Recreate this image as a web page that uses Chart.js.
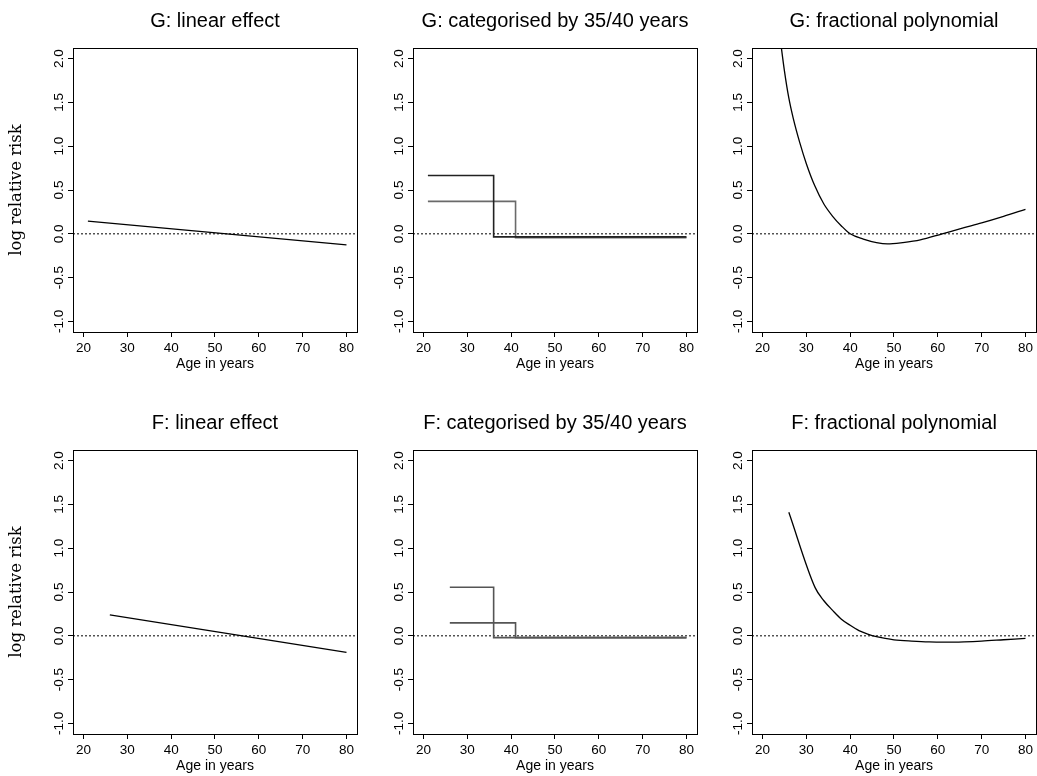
<!DOCTYPE html>
<html>
<head>
<meta charset="utf-8">
<script src="https://cdn.jsdelivr.net/npm/chart.js@4.4.1/dist/chart.umd.min.js"></script>
<style>
  html, body { margin: 0; padding: 0; background: #fff; overflow: hidden; }
  #wrap { position: relative; width: 1037px; height: 776px; overflow: hidden; }
  canvas { position: absolute; }
</style>
</head>
<body>
<div id="wrap">
  <canvas id="gLin" width="362" height="390" style="left:0px;top:0px"></canvas>
  <canvas id="gCat" width="362" height="390" style="left:340px;top:0px"></canvas>
  <canvas id="gFp" width="362" height="390" style="left:679px;top:0px"></canvas>
  <canvas id="fLin" width="362" height="390" style="left:0px;top:402px"></canvas>
  <canvas id="fCat" width="362" height="390" style="left:340px;top:402px"></canvas>
  <canvas id="fFp" width="362" height="390" style="left:679px;top:402px"></canvas>
</div>
<script>
// axes shared by all six panels
const xTicks = [20, 30, 40, 50, 60, 70, 80];
const yTicks = [-1.0, -0.5, 0.0, 0.5, 1.0, 1.5, 2.0];
const xRange = [17.6, 82.4];
const yRange = [-1.12, 2.12];

// G: linear effect
const gLinAge = [21, 80];
const gLinRisk = [0.145, -0.125];

// G: categorised by 35/40 years (step functions)
const gCat35Age = [21, 36, 80];
const gCat35Risk = [0.665, -0.035, -0.035];
const gCat40Age = [21, 41, 80];
const gCat40Risk = [0.37, -0.045, -0.045];

// G: fractional polynomial
const gFpAge = [24.0, 25, 26, 27, 28.5, 30, 31.9, 34, 36, 38, 40, 43, 46, 48.5, 52, 56, 61, 66, 70, 75, 80];
const gFpRisk = [2.24, 1.86, 1.55, 1.32, 1.04, 0.8, 0.55, 0.34, 0.2, 0.09, 0.0, -0.06, -0.1, -0.115, -0.1, -0.07, 0.0, 0.07, 0.125, 0.2, 0.28];

// F: linear effect
const fLinAge = [26, 80];
const fLinRisk = [0.24, -0.19];

// F: categorised by 35/40 years
const fCat35Age = [26, 36, 80];
const fCat35Risk = [0.555, -0.02, -0.02];
const fCat40Age = [26, 41, 80];
const fCat40Risk = [0.148, -0.02, -0.02];

// F: fractional polynomial
const fFpAge = [26, 32, 34, 36, 38, 40, 42, 44, 46, 48, 50, 54, 58, 62, 66, 70, 75, 80];
const fFpRisk = [1.41, 0.55, 0.4, 0.29, 0.19, 0.12, 0.06, 0.02, -0.01, -0.03, -0.045, -0.06, -0.07, -0.072, -0.068, -0.06, -0.045, -0.03];

Chart.defaults.font.family = "'Liberation Sans', Arial, Helvetica, sans-serif";
Chart.defaults.color = '#000';

function pts(xs, ys) {
  return xs.map((x, i) => ({ x: x, y: ys[i] }));
}

// box round the plot region, like R's box()
const framePlugin = {
  id: 'frame',
  afterDraw(chart) {
    const a = chart.chartArea;
    const ctx = chart.ctx;
    ctx.save();
    ctx.strokeStyle = '#000';
    ctx.lineWidth = 1;
    ctx.strokeRect(a.left + 0.5, a.top + 0.5, a.right - a.left, a.bottom - a.top);
    ctx.restore();
  }
};

function curve(xs, ys, extra) {
  return Object.assign({
    data: pts(xs, ys),
    borderColor: '#000',
    borderWidth: 1.3,
    pointRadius: 0,
    fill: false,
    tension: 0
  }, extra || {});
}

function zeroLine() {
  return {
    data: pts(xRange, [0, 0]),
    borderColor: '#000',
    borderWidth: 1,
    borderDash: [2, 2],
    pointRadius: 0,
    fill: false
  };
}

function panel(id, title, showYTitle, datasets) {
  new Chart(document.getElementById(id), {
    type: 'line',
    data: { datasets: datasets.concat([zeroLine()]) },
    options: {
      responsive: false,
      animation: false,
      events: [],
      layout: { padding: { left: 0, right: 5, top: 0, bottom: 0 } },
      plugins: {
        legend: { display: false },
        tooltip: { enabled: false },
        title: {
          display: true,
          text: title,
          fullSize: false,
          color: '#000',
          font: { size: 20, weight: 'normal' },
          padding: { top: 9, bottom: 15 }
        }
      },
      scales: {
        x: {
          type: 'linear',
          min: xRange[0],
          max: xRange[1],
          afterBuildTicks: s => { s.ticks = xTicks.map(v => ({ value: v })); },
          afterFit: s => { s.height = 58; },
          border: { display: false },
          grid: { drawOnChartArea: false, drawTicks: true, tickLength: 5, color: '#000', lineWidth: 1 },
          ticks: { autoSkip: false, maxRotation: 0, padding: 3.4, color: '#000', font: { size: 13.5 } },
          title: {
            display: true,
            text: 'Age in years',
            color: '#000',
            font: { size: 14 },
            padding: { top: 0, bottom: 17 }
          }
        },
        y: {
          type: 'linear',
          min: yRange[0],
          max: yRange[1],
          afterBuildTicks: s => { s.ticks = yTicks.map(v => ({ value: v })); },
          afterFit: s => { s.width = 73; },
          border: { display: false },
          grid: { drawOnChartArea: false, drawTicks: true, tickLength: 5, color: '#000', lineWidth: 1 },
          ticks: {
            minRotation: 90,
            maxRotation: 90,
            crossAlign: 'center',
            padding: -2.6,
            color: '#000',
            font: { size: 13.5 },
            callback: v => Number(v).toFixed(1)
          },
          title: {
            display: showYTitle,
            text: 'log relative risk',
            color: '#000',
            font: { family: "'DejaVu Serif', 'Liberation Serif', serif", size: 16.5 },
            padding: { top: 6.5, bottom: 0 }
          }
        }
      }
    },
    plugins: [framePlugin]
  });
}

panel('gLin', 'G: linear effect', true, [curve(gLinAge, gLinRisk)]);
panel('gCat', 'G: categorised by 35/40 years', false, [
  curve(gCat35Age, gCat35Risk, { stepped: 'before', borderWidth: 1.6, borderColor: '#222' }),
  curve(gCat40Age, gCat40Risk, { stepped: 'before', borderWidth: 1.6, borderColor: '#6a6a6a' })
]);
panel('gFp', 'G: fractional polynomial', false, [curve(gFpAge, gFpRisk, { cubicInterpolationMode: 'monotone' })]);

panel('fLin', 'F: linear effect', true, [curve(fLinAge, fLinRisk)]);
panel('fCat', 'F: categorised by 35/40 years', false, [
  curve(fCat35Age, fCat35Risk, { stepped: 'before', borderWidth: 1.6, borderColor: '#555' }),
  curve(fCat40Age, fCat40Risk, { stepped: 'before', borderWidth: 1.6, borderColor: '#555' })
]);
panel('fFp', 'F: fractional polynomial', false, [curve(fFpAge, fFpRisk, { cubicInterpolationMode: 'monotone' })]);
</script>
</body>
</html>
